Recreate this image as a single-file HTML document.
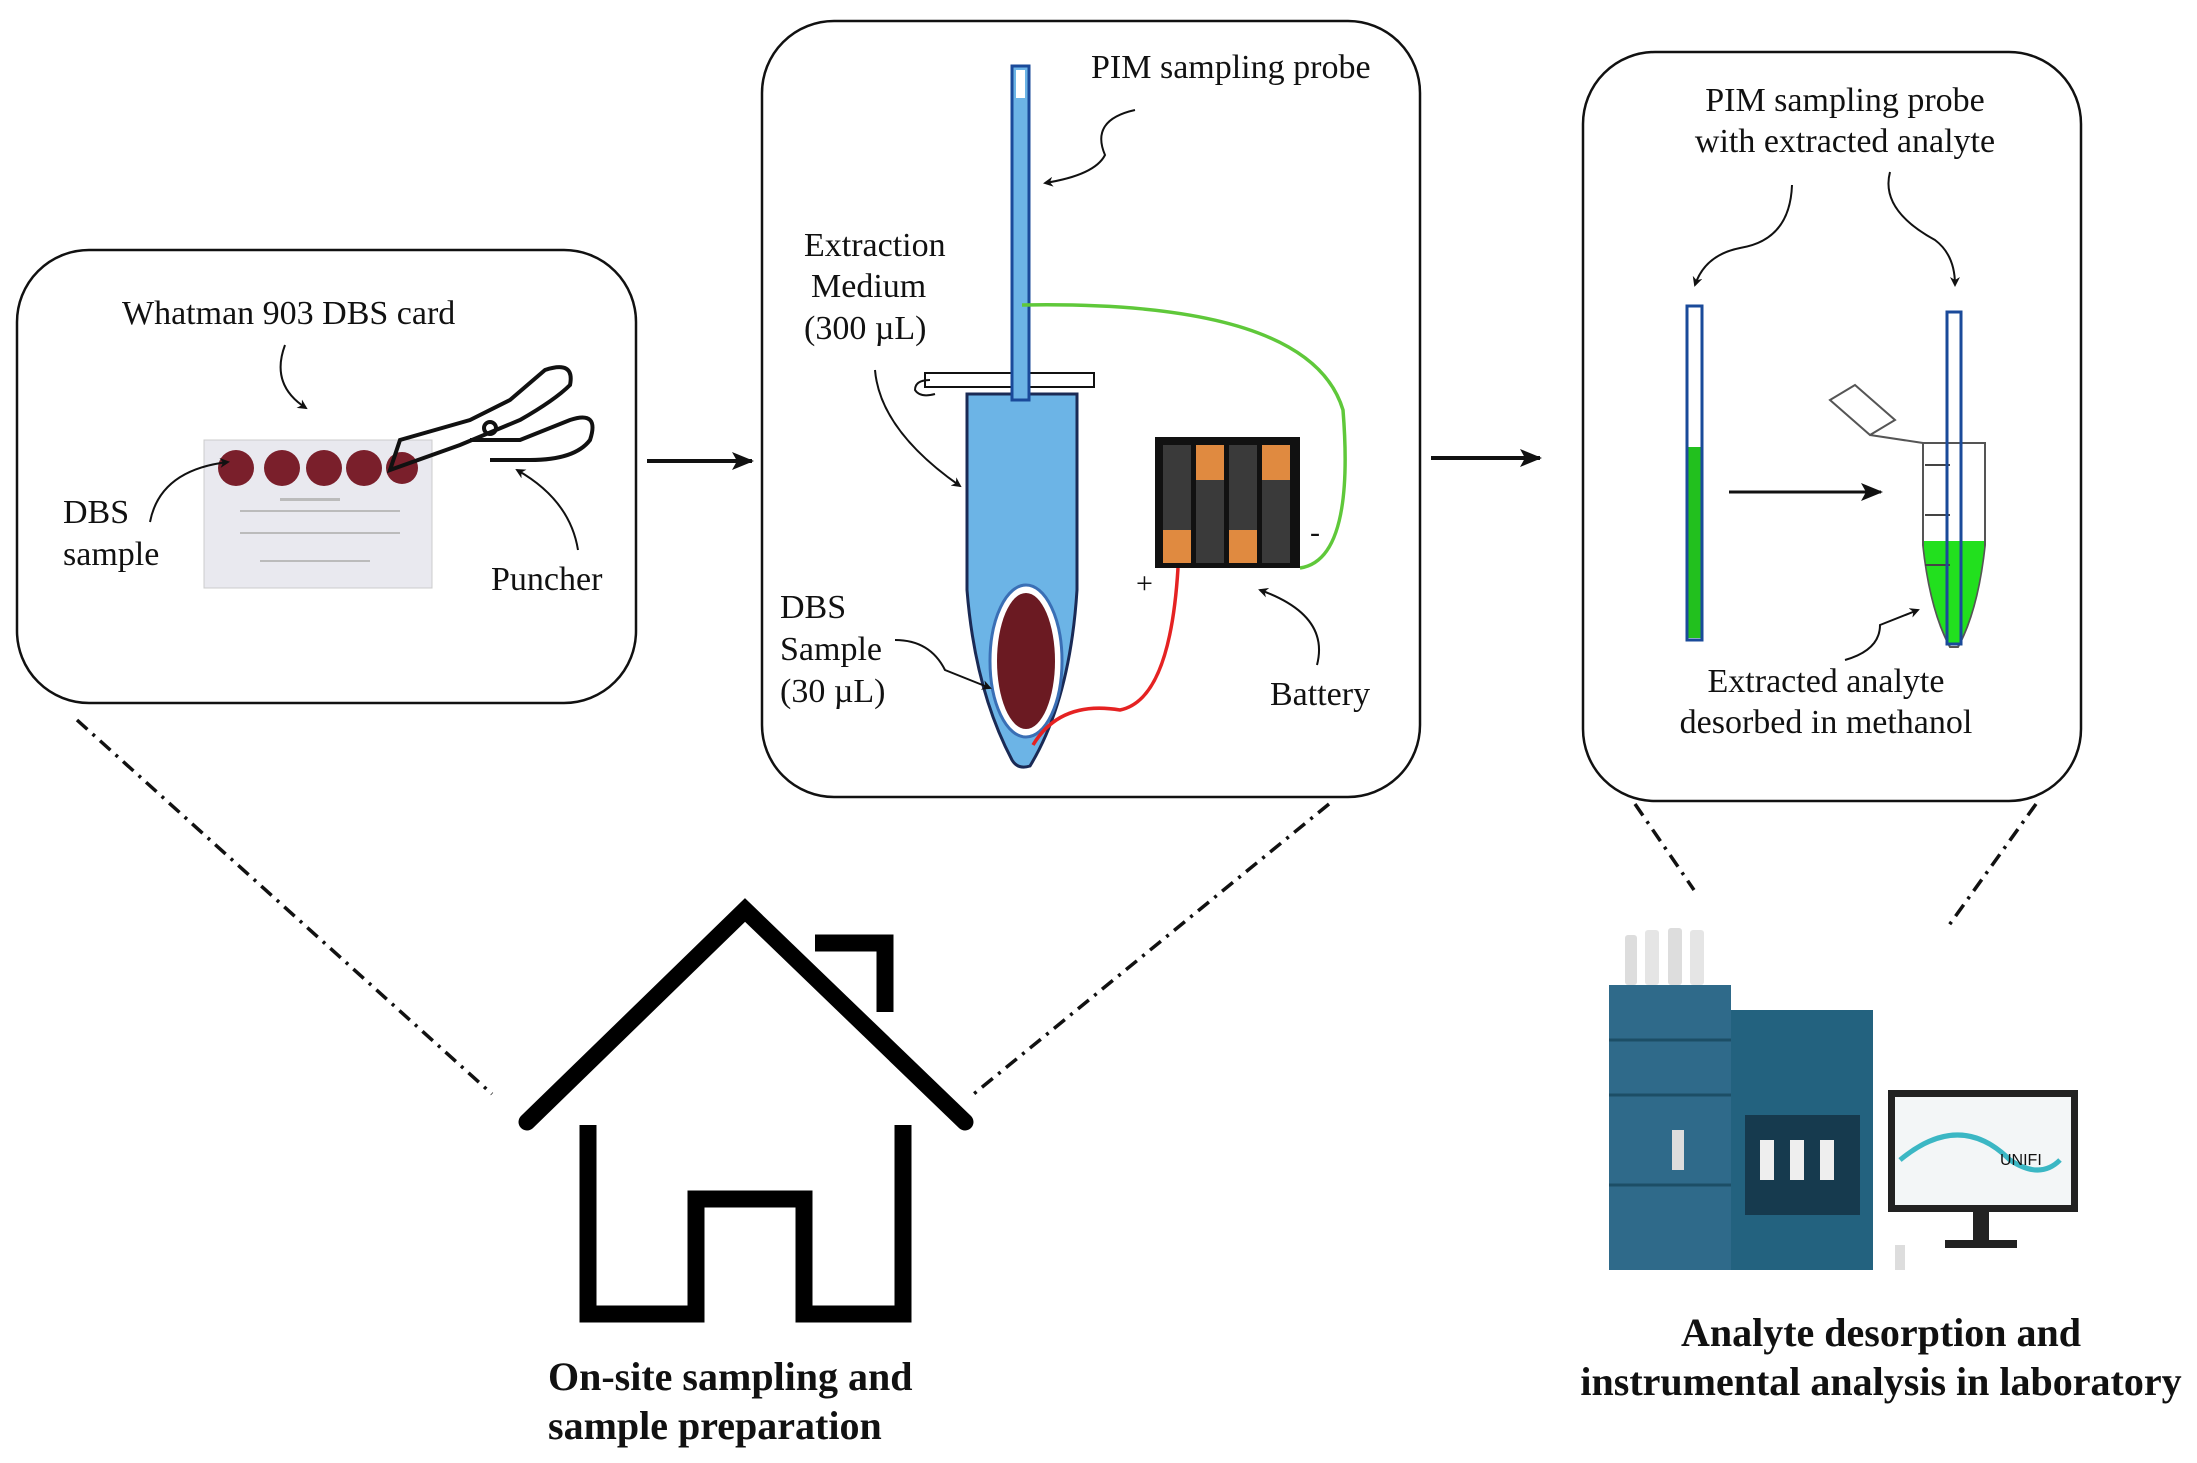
<!DOCTYPE html>
<html><head><meta charset="utf-8"><style>
html,body{margin:0;padding:0;background:#fff;}
svg{display:block;}
text{font-family:"Liberation Serif",serif;fill:#111;}
</style></head><body>
<svg width="2197" height="1463" viewBox="0 0 2197 1463" xmlns="http://www.w3.org/2000/svg">
<defs>
<marker id="ah" markerWidth="10" markerHeight="10" refX="8" refY="5" orient="auto" markerUnits="userSpaceOnUse"><path d="M0,0 L10,5 L0,10 L3,5 z" fill="#111"/></marker>
<marker id="ab" markerWidth="22" markerHeight="18" refX="20" refY="9" orient="auto" markerUnits="userSpaceOnUse"><path d="M0,0 L22,9 L0,18 L5,9 z" fill="#111"/></marker>
</defs>
<rect x="17" y="250" width="619" height="453" rx="72" fill="none" stroke="#111" stroke-width="2.5"/>
<rect x="762" y="21" width="658" height="776" rx="72" fill="none" stroke="#111" stroke-width="2.5"/>
<rect x="1583" y="52" width="498" height="749" rx="72" fill="none" stroke="#111" stroke-width="2.5"/>
<line x1="647" y1="461" x2="752" y2="461" stroke="#111" stroke-width="4" marker-end="url(#ab)"/>
<line x1="1431" y1="458" x2="1540" y2="458" stroke="#111" stroke-width="4" marker-end="url(#ab)"/>
<g stroke="#111" stroke-width="3.5" stroke-dasharray="14 7 3 7" fill="none">
<line x1="77" y1="720" x2="492" y2="1094"/>
<line x1="1329" y1="804" x2="970" y2="1097"/>
<line x1="1635" y1="804" x2="1694" y2="890"/>
<line x1="2036" y1="804" x2="1947" y2="928"/>
</g>
<g stroke="#000" stroke-width="17" fill="none" stroke-linecap="round">
<polyline points="527,1122 745,910 965,1122"/>
</g>
<g stroke="#000" stroke-width="17" fill="none">
<polyline points="815,943 885,943 885,1012"/>
<polyline points="588,1125 588,1314 696,1314 696,1199 804,1199 804,1314 903,1314 903,1125"/>
</g>
<text x="548" y="1390" font-size="40" font-weight="bold">On-site sampling and</text>
<text x="548" y="1439" font-size="40" font-weight="bold">sample preparation</text>
<text x="1881" y="1346" font-size="40" font-weight="bold" text-anchor="middle">Analyte desorption and</text>
<text x="1881" y="1395" font-size="40" font-weight="bold" text-anchor="middle">instrumental analysis in laboratory</text>

<text x="122" y="324" font-size="34">Whatman 903 DBS card</text>
<text x="63" y="523" font-size="34">DBS</text>
<text x="63" y="565" font-size="34">sample</text>
<text x="491" y="590" font-size="34">Puncher</text>
<rect x="204" y="440" width="228" height="148" fill="#e9e9ef" stroke="#ccc"/>
<g fill="#bbb"><rect x="240" y="510" width="160" height="2"/><rect x="240" y="532" width="160" height="2"/><rect x="260" y="560" width="110" height="2"/><rect x="280" y="498" width="60" height="3"/></g>
<g fill="#7a1f2b"><circle cx="236" cy="468" r="18"/><circle cx="282" cy="468" r="18"/><circle cx="324" cy="468" r="18"/><circle cx="364" cy="468" r="18"/><circle cx="402" cy="468" r="16"/></g>
<g fill="none" stroke="#111" stroke-width="4">
<path d="M390,470 L400,440 L470,420 L510,400 L545,370 Q575,360 570,385 Q555,400 520,420 L460,445 Z"/>
<path d="M470,440 L520,440 L570,420 Q600,410 590,440 Q575,460 530,460 L490,460"/>
<circle cx="490" cy="428" r="6"/>
</g>
<g fill="none" stroke="#111" stroke-width="2">
<path d="M285,345 Q270,385 306,408" marker-end="url(#ah)"/>
<path d="M150,522 Q160,470 228,462" marker-end="url(#ah)"/>
<path d="M578,550 Q570,500 517,470" marker-end="url(#ah)"/>
</g>

<text x="1091" y="78" font-size="34">PIM sampling probe</text>
<text x="804" y="256" font-size="34">Extraction</text>
<text x="811" y="297" font-size="34">Medium</text>
<text x="804" y="339" font-size="34">(300 µL)</text>
<text x="780" y="618" font-size="34">DBS</text>
<text x="780" y="660" font-size="34">Sample</text>
<text x="780" y="702" font-size="34">(30 µL)</text>
<text x="1270" y="705" font-size="34">Battery</text>
<text x="1136" y="593" font-size="30">+</text>
<text x="1310" y="542" font-size="30">-</text>
<path d="M967,394 L1077,394 L1077,590 Q1070,700 1030,766 Q1018,770 1012,760 Q975,690 967,590 Z" fill="#6cb4e6" stroke="#1a2a55" stroke-width="3"/>
<rect x="925" y="373" width="169" height="14" fill="#fff" stroke="#111" stroke-width="2"/>
<path d="M930,380 Q915,380 915,390 Q920,398 935,394" fill="none" stroke="#111" stroke-width="2"/>
<ellipse cx="1026" cy="661" rx="36" ry="76" fill="#fff" stroke="#3a6fb5" stroke-width="3"/>
<ellipse cx="1026" cy="661" rx="29" ry="68" fill="#6b1a22"/>
<rect x="1012" y="66" width="17" height="334" fill="#6cb4e6" stroke="#1a4a9a" stroke-width="3"/>
<rect x="1016" y="70" width="9" height="28" fill="#fff"/>
<path d="M1022,305 Q1310,300 1343,410 Q1355,560 1300,568" fill="none" stroke="#5fc83a" stroke-width="3.5"/>
<path d="M1178,568 Q1170,700 1120,710 Q1060,700 1033,745" fill="none" stroke="#e52222" stroke-width="3.5"/>
<rect x="1155" y="437" width="145" height="131" fill="#111"/>
<g>
<rect x="1163" y="445" width="28" height="118" fill="#3a3a3a"/><rect x="1163" y="530" width="28" height="33" fill="#e08a40"/>
<rect x="1196" y="445" width="28" height="118" fill="#3a3a3a"/><rect x="1196" y="445" width="28" height="35" fill="#e08a40"/>
<rect x="1229" y="445" width="28" height="118" fill="#3a3a3a"/><rect x="1229" y="530" width="28" height="33" fill="#e08a40"/>
<rect x="1262" y="445" width="28" height="118" fill="#3a3a3a"/><rect x="1262" y="445" width="28" height="35" fill="#e08a40"/>
</g>
<g fill="none" stroke="#111" stroke-width="2">
<path d="M1135,110 Q1090,120 1105,155 Q1095,175 1045,183" marker-end="url(#ah)"/>
<path d="M875,370 Q880,430 960,486" marker-end="url(#ah)"/>
<path d="M895,640 Q930,640 945,670 L990,688" marker-end="url(#ah)"/>
<path d="M1317,665 Q1330,615 1260,590" marker-end="url(#ah)"/>
</g>

<text x="1845" y="111" font-size="34" text-anchor="middle">PIM sampling probe</text>
<text x="1845" y="152" font-size="34" text-anchor="middle">with extracted analyte</text>
<text x="1826" y="692" font-size="34" text-anchor="middle">Extracted analyte</text>
<text x="1826" y="733" font-size="34" text-anchor="middle">desorbed in methanol</text>
<rect x="1687" y="306" width="15" height="334" fill="#fff" stroke="#1a4a9a" stroke-width="3"/>
<rect x="1688.5" y="447" width="12" height="191" fill="#22c01e"/>
<line x1="1729" y1="492" x2="1881" y2="492" stroke="#111" stroke-width="3" marker-end="url(#ab)"/>
<path d="M1923,443 L1985,443 L1985,545 Q1978,610 1958,647 L1950,647 Q1930,610 1923,545 Z" fill="#fff" stroke="#555" stroke-width="2"/>
<path d="M1924,541 L1984,541 L1984,548 Q1977,610 1958,645 L1950,645 Q1931,610 1924,548 Z" fill="#22e01e"/>
<g stroke="#444" stroke-width="2"><line x1="1925" y1="465" x2="1950" y2="465"/><line x1="1925" y1="515" x2="1950" y2="515"/><line x1="1925" y1="565" x2="1950" y2="565"/></g>
<path d="M1830,400 L1855,385 L1895,420 L1870,435 Z" fill="#fff" stroke="#555" stroke-width="2"/>
<path d="M1870,435 L1923,443" stroke="#555" stroke-width="2"/>
<rect x="1947" y="312" width="14" height="332" fill="none" stroke="#1a4a9a" stroke-width="3"/>
<g fill="none" stroke="#111" stroke-width="2">
<path d="M1792,185 Q1790,240 1740,248 Q1705,255 1695,285" marker-end="url(#ah)"/>
<path d="M1890,172 Q1880,210 1935,240 Q1955,255 1955,285" marker-end="url(#ah)"/>
<path d="M1845,660 Q1880,650 1880,625 L1918,610" marker-end="url(#ah)"/>
</g>

<g>
<rect x="1625" y="935" width="12" height="50" fill="#ddd" rx="3"/><rect x="1645" y="930" width="14" height="55" fill="#e5e5e5" rx="3"/><rect x="1668" y="928" width="14" height="57" fill="#ddd" rx="3"/><rect x="1690" y="930" width="14" height="55" fill="#e5e5e5" rx="3"/>
<rect x="1609" y="985" width="122" height="285" fill="#2f6a8a"/>
<rect x="1731" y="1010" width="142" height="260" fill="#23627f"/>
<rect x="1745" y="1115" width="115" height="100" fill="#163a4e"/>
<rect x="1760" y="1140" width="14" height="40" fill="#eee"/><rect x="1790" y="1140" width="14" height="40" fill="#eee"/><rect x="1820" y="1140" width="14" height="40" fill="#eee"/>
<g stroke="#1c4e66" stroke-width="3"><line x1="1609" y1="1040" x2="1731" y2="1040"/><line x1="1609" y1="1095" x2="1731" y2="1095"/><line x1="1609" y1="1185" x2="1731" y2="1185"/></g>
<rect x="1672" y="1130" width="12" height="40" fill="#ddd"/>
<rect x="1888" y="1090" width="190" height="122" fill="#222"/>
<rect x="1895" y="1097" width="176" height="108" fill="#f3f6f7"/>
<path d="M1900,1160 Q1960,1110 2010,1160 Q2040,1180 2060,1160" fill="none" stroke="#3bb7c4" stroke-width="5"/>
<text x="2000" y="1165" font-size="16" fill="#2a8ea0" style="font-family:'Liberation Sans',sans-serif">UNIFI</text>
<rect x="1973" y="1212" width="16" height="28" fill="#222"/><rect x="1945" y="1240" width="72" height="8" fill="#222"/>
<rect x="1895" y="1245" width="10" height="25" fill="#ddd"/>
</g>
</svg>
</body></html>
